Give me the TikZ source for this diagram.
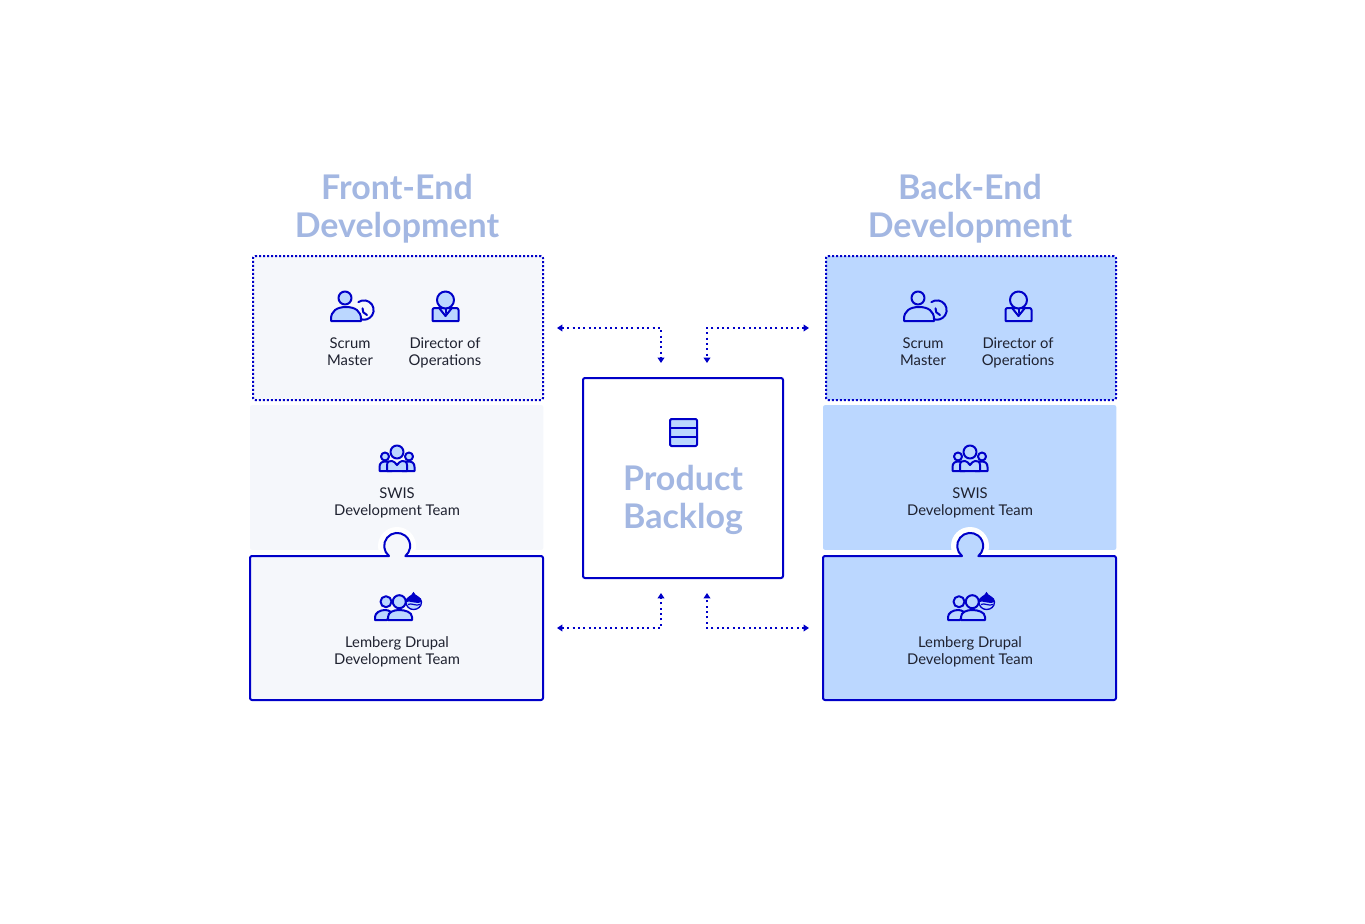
\documentclass[tikz,border=0pt]{standalone}
\usepackage{fontspec}
\setmainfont{Lato}
\usetikzlibrary{arrows.meta,shapes.geometric}
\definecolor{ink}{HTML}{0000C8}
\definecolor{lightblue}{HTML}{BBD7FF}
\definecolor{palepanel}{HTML}{F5F7FB}
\definecolor{headcol}{HTML}{A3B7E2}
\definecolor{bodytext}{HTML}{1F2230}
\tikzset{
  icon/.style={draw=ink,fill=lightblue,line width=1.5pt,line join=round},
  iconline/.style={draw=ink,line width=1.5pt,line cap=round,line join=round},
  dottedbox/.style={draw=ink,dash pattern=on 1.5pt off 1.5pt,line width=1.5pt,rounded corners=1.5pt,minimum width=217.5pt,minimum height=108pt,inner sep=0pt},
  plainbox/.style={rounded corners=1.5pt,minimum width=220pt,minimum height=108.5pt,inner sep=0pt},
  backlogbox/.style={draw=ink,fill=white,line width=1.5pt,rounded corners=1.5pt,minimum width=150pt,minimum height=150pt,inner sep=0pt},
  lead/.style={draw=ink,line width=1.5pt,dash pattern=on 1.5pt off 2.5pt,{Triangle[length=4pt,width=5pt,fill=ink]}-{Triangle[length=4pt,width=5pt,fill=ink]}},
  heading/.style={font=\fontsize{25.5}{28.5}\selectfont\bfseries,text=headcol,align=center,inner sep=0pt,execute at begin node=\strut,execute at end node=\strut},
  label/.style={font=\fontsize{11.1}{12.75}\selectfont,text=bodytext,align=center,inner sep=0pt,execute at begin node=\strut,execute at end node=\strut},
  scrumicon/.pic={
    \draw[iconline] (13.4,3.9) arc (125:-130:9.7);
    \path[icon] (-14,-13) .. controls (-14,-5) and (-8,-1) .. (1,-1) .. controls (10,-1) and (16,-5) .. (16,-13) -- (16,-15) -- (-14,-15) -- cycle;
    \path[icon] (0,8) circle (6.5);
    \draw[iconline] (17.5,-2.3) -- (18.3,-6.3) -- (22,-9);
  },
  directoricon/.pic={
    \path[icon] (-13,-12) -- (-13,-1) arc (180:90:2) -- (11,1) arc (90:0:2) -- (13,-12) -- cycle;
    \path[icon] (0,9) circle (8.5);
    \draw[iconline] (-6,0.5) -- (0,-7) -- (6,0.5);
    \draw[iconline] (0,0) -- (0,-4);
  },
  teamicon/.pic={
    \path[icon] (-17.5,-13) -- (-17.5,-9) .. controls (-17.5,-5) and (-15,-3.5) .. (-11.5,-3.5) .. controls (-8,-3.5) and (-5,-5) .. (-5,-9) -- (-5,-13) -- cycle;
    \path[icon] (17.5,-13) -- (17.5,-9) .. controls (17.5,-5) and (15,-3.5) .. (11.5,-3.5) .. controls (8,-3.5) and (5,-5) .. (5,-9) -- (5,-13) -- cycle;
    \path[icon] (-10,-13) -- (-10,-7) .. controls (-10,-3) and (-7,-3) .. (-5,-3) .. controls (-3,-3) and (-2,-5) .. (0,-7) .. controls (2,-5) and (3,-3) .. (5,-3) .. controls (7,-3) and (10,-3) .. (10,-7) -- (10,-13) -- cycle;
    \path[icon] (0,6) circle (6.5);
    \path[icon] (-12,1.5) circle (4);
    \path[icon] (12,1.5) circle (4);
  },
  lembergicon/.pic={
    \path[icon] (-22,-15) -- (-22,-12) .. controls (-22,-8) and (-17,-5) .. (-12,-5) .. controls (-10,-5) and (-8,-5.5) .. (-6,-7) -- (-10,-15) -- cycle;
    \path[icon] (-9,-15) -- (-9,-12) .. controls (-9,-7) and (-3,-5) .. (2,-5) .. controls (8,-5) and (15,-7) .. (15,-12) -- (15,-15) -- cycle;
    \path[icon] (-11,3.3) circle (5.5);
    \path[icon] (2.3,3.3) circle (6.5);
    \path[draw=ink,fill=lightblue,line width=1pt] (16.5,12) .. controls (15.5,8.5) and (9,8) .. (9,3) .. controls (9,-1.5) and (12.5,-4.5) .. (16.5,-4.5) .. controls (21,-4.5) and (24.5,-1.5) .. (24.5,3) .. controls (24.5,8) and (17.5,8.5) .. (16.5,12) -- cycle;
    \fill[ink] (16.5,12) .. controls (15.5,8.5) and (9,8) .. (9,3) .. controls (12,5) and (21,0) .. (24.5,3) .. controls (24.5,8) and (17.5,8.5) .. (16.5,12) -- cycle;
    \draw[ink,line width=.9pt] (11,0.5) .. controls (14,2.5) and (19,-1.5) .. (23,0.5);
  },
  dbicon/.pic={
    \path[icon,rounded corners=1pt] (-13.5,13.5) rectangle (13.5,-13.5);
    \draw[iconline] (-13.5,4.5) -- (13.5,4.5);
    \draw[iconline] (-13.5,-4.5) -- (13.5,-4.5);
  },
}
\begin{document}
\begin{tikzpicture}[x=0.75pt,y=0.75pt]
\useasboundingbox (0,0) rectangle (1365,-924);
\foreach \dx/\panel/\sd/\ttl in {0/palepanel/L/Front-End,573/lightblue/R/Back-End}{
  \begin{scope}[shift={(\dx,0)}]
    \node[heading] (title\sd) at (397,-212) {\ttl\\Development};
    \node[dottedbox,fill=\panel] (lead\sd) at (398,-328) {};
    \node[plainbox,fill=\panel] (swis\sd) at (396.7,-477.5) {};
    % white halo of the knob, then the bottom box with its knob
    \fill[white] (397,-546) circle (19);
    \path[draw=ink,fill=\panel,line width=1.5pt,line join=round]
      (389,-556) arc (231:-51:13) -- (541,-556) arc (90:0:2) -- (543,-698) arc (0:-90:2) -- (252,-700) arc (270:180:2) -- (250,-558) arc (180:90:2) -- cycle;
    \pic at (345,-306) {scrumicon};
    \pic at (445.5,-309) {directoricon};
    \pic at (397,-458) {teamicon};
    \pic at (397,-605) {lembergicon};
    \node[label] (scrum\sd) at (350,-354.5) {Scrum\\Master};
    \node[label] (director\sd) at (445,-354.5) {Director of\\Operations};
    \node[label] (swisl\sd) at (397,-504.5) {SWIS\\Development Team};
    \node[label] (lemberg\sd) at (397,-653.5) {Lemberg Drupal\\Development Team};
  \end{scope}
}
\node[backlogbox] (backlog) at (683,-478) {};
\pic at (683.5,-432.5) {dbicon};
\node[heading] (backlogtitle) at (683,-503) {Product\\Backlog};
\coordinate (tlA) at (557,-328); \coordinate (tlB) at (661,-363);
\coordinate (trA) at (809,-328); \coordinate (trB) at (707,-363);
\coordinate (blA) at (557,-628); \coordinate (blB) at (661,-593);
\coordinate (brA) at (809,-628); \coordinate (brB) at (707,-593);
\draw[lead] (tlA) -| (tlB);
\draw[lead] (trA) -| (trB);
\draw[lead] (blA) -| (blB);
\draw[lead] (brA) -| (brB);
\end{tikzpicture}
\end{document}
